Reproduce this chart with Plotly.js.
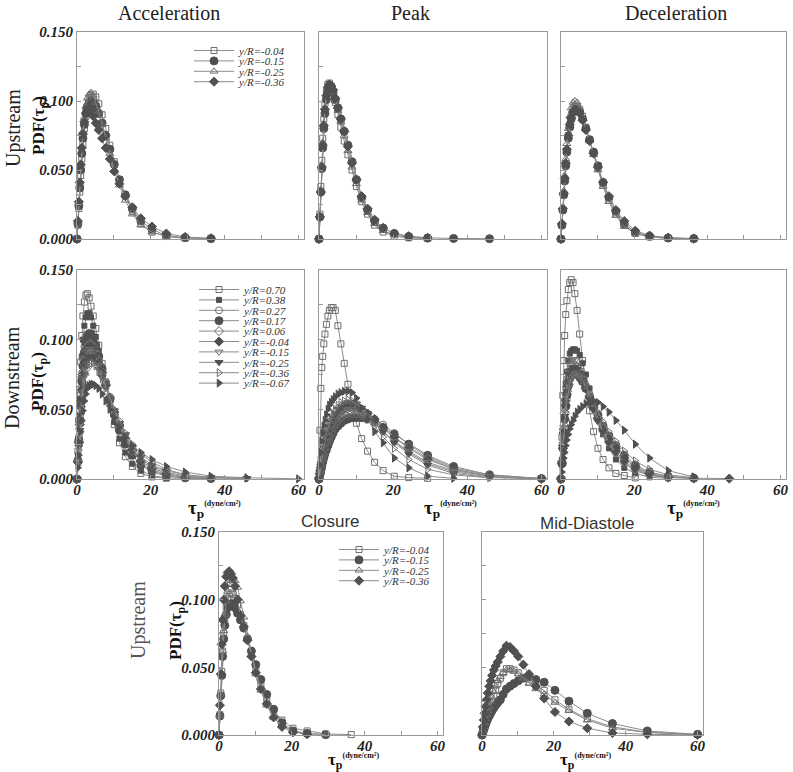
<!DOCTYPE html>
<html><head><meta charset="utf-8">
<script src="https://cdn.plot.ly/plotly-3.0.1.min.js"></script>
<style>html,body{margin:0;padding:0;background:#fff}#plot{width:793px;height:772px}</style>
</head><body><div id="plot"></div>
<script>
// ---------------- DATA ----------------
const TAU = [0, 0.25, 0.5, 0.75, 1.0, 1.3, 1.6, 2.0, 2.4, 2.8, 3.3, 3.8, 4.4, 5.1, 5.9, 6.8, 7.8, 8.9, 10.1, 11.5, 13.1, 15.0, 17.3, 20.3, 24.2, 29.3, 36.3, 46.0, 60.0];
const UP_NAMES = ['y/R=-0.04', 'y/R=-0.15', 'y/R=-0.25', 'y/R=-0.36'];
const DOWN_NAMES = ['y/R=0.70', 'y/R=0.38', 'y/R=0.27', 'y/R=0.17', 'y/R=0.06', 'y/R=-0.04', 'y/R=-0.15', 'y/R=-0.25', 'y/R=-0.36', 'y/R=-0.67'];
const X_TICKS = [0, 10, 20, 30, 40, 50, 60];
const X_TICK_LABELS = ['0', '', '20', '', '40', '', '60'];
const Y_TICKS = [0, 0.025, 0.05, 0.075, 0.1, 0.125, 0.15];
const Y_TICK_LABELS = ['0.000', '', '0.050', '', '0.100', '', '0.150'];

// Upstream - Acceleration
const ACC_UP_M004 = [0, 0.010, 0.022, 0.034, 0.046, 0.058, 0.069, 0.080, 0.089, 0.096, 0.101, 0.104, 0.105, 0.103, 0.098, 0.090, 0.080, 0.068, 0.056, 0.043, 0.031, 0.020, 0.011, 0.005, 0.002, 0.0006, 0.0002];
const ACC_UP_M015 = [0, 0.011, 0.024, 0.037, 0.050, 0.062, 0.073, 0.083, 0.091, 0.096, 0.099, 0.100, 0.099, 0.096, 0.091, 0.084, 0.075, 0.065, 0.054, 0.043, 0.032, 0.022, 0.013, 0.007, 0.0025, 0.001, 0.0003];
const ACC_UP_M025 = [0, 0.012, 0.026, 0.040, 0.054, 0.067, 0.078, 0.088, 0.096, 0.102, 0.105, 0.106, 0.104, 0.099, 0.092, 0.083, 0.073, 0.062, 0.050, 0.039, 0.028, 0.018, 0.010, 0.005, 0.0018, 0.0005];
const ACC_UP_M036 = [0, 0.013, 0.027, 0.041, 0.054, 0.066, 0.076, 0.085, 0.091, 0.094, 0.095, 0.093, 0.089, 0.084, 0.079, 0.073, 0.066, 0.058, 0.049, 0.040, 0.031, 0.023, 0.015, 0.009, 0.004, 0.0015, 0.0005];
// Upstream - Peak
const PEAK_UP_M004 = [0, 0.018, 0.038, 0.057, 0.073, 0.087, 0.098, 0.107, 0.112, 0.113, 0.111, 0.106, 0.099, 0.090, 0.081, 0.071, 0.061, 0.050, 0.038, 0.027, 0.018, 0.010, 0.005, 0.002, 0.0008, 0.0003];
const PEAK_UP_M015 = [0, 0.016, 0.034, 0.051, 0.066, 0.080, 0.091, 0.101, 0.107, 0.110, 0.110, 0.106, 0.101, 0.095, 0.087, 0.078, 0.068, 0.056, 0.043, 0.030, 0.021, 0.013, 0.008, 0.004, 0.0018, 0.0008, 0.0004, 0.0002];
const PEAK_UP_M025 = [0, 0.017, 0.036, 0.054, 0.070, 0.084, 0.095, 0.104, 0.109, 0.111, 0.110, 0.106, 0.100, 0.093, 0.085, 0.075, 0.064, 0.052, 0.040, 0.028, 0.019, 0.011, 0.006, 0.003, 0.001, 0.0004];
const PEAK_UP_M036 = [0, 0.016, 0.034, 0.052, 0.068, 0.082, 0.094, 0.104, 0.110, 0.112, 0.111, 0.108, 0.102, 0.095, 0.087, 0.078, 0.067, 0.055, 0.043, 0.031, 0.022, 0.014, 0.008, 0.004, 0.002, 0.0008];
// Upstream - Deceleration
const DEC_UP_M004 = [0, 0.010, 0.021, 0.032, 0.043, 0.054, 0.064, 0.075, 0.083, 0.089, 0.094, 0.096, 0.096, 0.094, 0.089, 0.081, 0.072, 0.062, 0.051, 0.039, 0.028, 0.018, 0.010, 0.004, 0.0015, 0.0005, 0.0002];
const DEC_UP_M015 = [0, 0.010, 0.021, 0.032, 0.042, 0.053, 0.063, 0.073, 0.081, 0.087, 0.092, 0.094, 0.094, 0.092, 0.087, 0.080, 0.072, 0.063, 0.053, 0.041, 0.030, 0.020, 0.011, 0.005, 0.002, 0.0008, 0.0003];
const DEC_UP_M025 = [0, 0.011, 0.023, 0.035, 0.046, 0.058, 0.069, 0.080, 0.089, 0.095, 0.099, 0.100, 0.099, 0.095, 0.088, 0.080, 0.071, 0.061, 0.050, 0.038, 0.027, 0.017, 0.009, 0.004, 0.0015, 0.0005];
const DEC_UP_M036 = [0, 0.011, 0.022, 0.033, 0.044, 0.055, 0.065, 0.075, 0.083, 0.088, 0.092, 0.093, 0.093, 0.091, 0.086, 0.079, 0.071, 0.062, 0.052, 0.041, 0.031, 0.021, 0.013, 0.006, 0.0025, 0.001, 0.0003];

// Downstream - Acceleration
const ACC_DN_P070 = [0, 0.020, 0.042, 0.064, 0.084, 0.103, 0.117, 0.127, 0.132, 0.133, 0.130, 0.124, 0.117, 0.108, 0.096, 0.083, 0.069, 0.054, 0.039, 0.026, 0.016, 0.009, 0.004, 0.0015, 0.0005];
const ACC_DN_P038 = [0, 0.017, 0.036, 0.055, 0.072, 0.088, 0.100, 0.110, 0.116, 0.119, 0.119, 0.116, 0.110, 0.102, 0.092, 0.080, 0.067, 0.054, 0.041, 0.029, 0.019, 0.011, 0.006, 0.0025, 0.0008, 0.0003];
const ACC_DN_P027 = [0, 0.014, 0.030, 0.046, 0.061, 0.075, 0.086, 0.095, 0.101, 0.104, 0.105, 0.104, 0.101, 0.096, 0.089, 0.080, 0.070, 0.059, 0.048, 0.037, 0.026, 0.017, 0.010, 0.005, 0.002, 0.0006, 0.0002];
const ACC_DN_P017 = [0, 0.013, 0.028, 0.043, 0.057, 0.070, 0.081, 0.091, 0.098, 0.102, 0.104, 0.104, 0.101, 0.096, 0.088, 0.079, 0.068, 0.057, 0.046, 0.035, 0.025, 0.017, 0.010, 0.006, 0.0025, 0.0009, 0.0003];
const ACC_DN_P006 = [0, 0.013, 0.027, 0.041, 0.054, 0.066, 0.077, 0.086, 0.092, 0.095, 0.097, 0.097, 0.095, 0.091, 0.085, 0.077, 0.068, 0.058, 0.048, 0.038, 0.029, 0.020, 0.012, 0.007, 0.003, 0.001, 0.0004];
const ACC_DN_M004 = [0, 0.012, 0.026, 0.039, 0.052, 0.064, 0.075, 0.084, 0.090, 0.094, 0.095, 0.095, 0.093, 0.089, 0.083, 0.076, 0.067, 0.058, 0.048, 0.039, 0.029, 0.021, 0.013, 0.008, 0.004, 0.0015, 0.0005];
const ACC_DN_M015 = [0, 0.012, 0.025, 0.038, 0.050, 0.062, 0.072, 0.081, 0.087, 0.091, 0.093, 0.093, 0.091, 0.087, 0.082, 0.075, 0.067, 0.058, 0.049, 0.040, 0.031, 0.022, 0.015, 0.009, 0.005, 0.002, 0.0008, 0.0003];
const ACC_DN_M025 = [0, 0.011, 0.023, 0.035, 0.046, 0.057, 0.067, 0.075, 0.081, 0.085, 0.087, 0.088, 0.087, 0.084, 0.079, 0.073, 0.066, 0.058, 0.049, 0.040, 0.032, 0.023, 0.016, 0.010, 0.006, 0.003, 0.001, 0.0004];
const ACC_DN_M036 = [0, 0.010, 0.021, 0.032, 0.042, 0.052, 0.061, 0.069, 0.075, 0.079, 0.082, 0.083, 0.083, 0.081, 0.077, 0.072, 0.065, 0.058, 0.050, 0.042, 0.033, 0.025, 0.018, 0.012, 0.007, 0.003, 0.0012, 0.0005];
const ACC_DN_M067 = [0, 0.008, 0.017, 0.026, 0.034, 0.042, 0.049, 0.056, 0.061, 0.065, 0.067, 0.068, 0.068, 0.067, 0.065, 0.061, 0.056, 0.050, 0.044, 0.037, 0.030, 0.024, 0.019, 0.014, 0.009, 0.005, 0.002, 0.0009, 0.0001];
// Downstream - Peak
const PEAK_DN_P070 = [0, 0.035, 0.065, 0.080, 0.088, 0.097, 0.104, 0.111, 0.117, 0.121, 0.123, 0.123, 0.121, 0.110, 0.097, 0.083, 0.068, 0.054, 0.040, 0.029, 0.020, 0.012, 0.006, 0.002, 0.001, 0.0005];
const PEAK_DN_P038 = [0, 0.004, 0.008, 0.012, 0.016, 0.020, 0.024, 0.028, 0.032, 0.035, 0.038, 0.041, 0.044, 0.046, 0.048, 0.050, 0.051, 0.051, 0.050, 0.048, 0.045, 0.040, 0.034, 0.027, 0.019, 0.011, 0.005, 0.0015, 0.0002];
const PEAK_DN_P027 = [0, 0.003, 0.006, 0.009, 0.012, 0.015, 0.018, 0.022, 0.025, 0.028, 0.031, 0.034, 0.037, 0.039, 0.041, 0.043, 0.044, 0.045, 0.046, 0.046, 0.045, 0.043, 0.039, 0.033, 0.025, 0.016, 0.008, 0.003, 0.0003];
const PEAK_DN_P017 = [0, 0.003, 0.006, 0.009, 0.012, 0.015, 0.018, 0.021, 0.024, 0.027, 0.030, 0.033, 0.036, 0.038, 0.040, 0.042, 0.043, 0.044, 0.044, 0.044, 0.043, 0.041, 0.037, 0.032, 0.025, 0.017, 0.009, 0.003, 0.0003];
const PEAK_DN_P006 = [0, 0.004, 0.007, 0.011, 0.014, 0.018, 0.021, 0.025, 0.028, 0.031, 0.034, 0.037, 0.040, 0.042, 0.044, 0.046, 0.047, 0.047, 0.047, 0.046, 0.044, 0.041, 0.036, 0.030, 0.023, 0.015, 0.007, 0.0025, 0.0002];
const PEAK_DN_M004 = [0, 0.004, 0.008, 0.012, 0.016, 0.020, 0.024, 0.028, 0.032, 0.035, 0.038, 0.041, 0.044, 0.047, 0.049, 0.051, 0.052, 0.053, 0.052, 0.050, 0.047, 0.043, 0.037, 0.030, 0.022, 0.014, 0.007, 0.002, 0.0002];
const PEAK_DN_M015 = [0, 0.004, 0.008, 0.012, 0.016, 0.020, 0.023, 0.027, 0.031, 0.034, 0.037, 0.040, 0.043, 0.045, 0.047, 0.049, 0.050, 0.050, 0.049, 0.047, 0.044, 0.040, 0.034, 0.027, 0.020, 0.012, 0.006, 0.002, 0.0002];
const PEAK_DN_M025 = [0, 0.005, 0.009, 0.014, 0.018, 0.022, 0.026, 0.030, 0.034, 0.038, 0.041, 0.044, 0.047, 0.050, 0.052, 0.054, 0.055, 0.055, 0.054, 0.051, 0.047, 0.041, 0.034, 0.026, 0.018, 0.010, 0.004, 0.001, 0.0001];
const PEAK_DN_M036 = [0, 0.005, 0.010, 0.015, 0.019, 0.024, 0.028, 0.033, 0.037, 0.041, 0.044, 0.047, 0.050, 0.053, 0.055, 0.056, 0.057, 0.056, 0.054, 0.050, 0.045, 0.038, 0.030, 0.022, 0.014, 0.007, 0.003, 0.0008];
const PEAK_DN_M067 = [0, 0.010, 0.019, 0.027, 0.033, 0.038, 0.042, 0.046, 0.050, 0.053, 0.055, 0.057, 0.059, 0.061, 0.062, 0.063, 0.063, 0.062, 0.058, 0.051, 0.043, 0.034, 0.026, 0.015, 0.008, 0.002, 0.0005];
// Downstream - Deceleration
const DEC_DN_P070 = [0, 0.030, 0.060, 0.085, 0.103, 0.118, 0.128, 0.136, 0.141, 0.143, 0.141, 0.133, 0.121, 0.104, 0.085, 0.066, 0.049, 0.034, 0.022, 0.014, 0.008, 0.004, 0.0025, 0.0008];
const DEC_DN_P038 = [0, 0.014, 0.029, 0.043, 0.056, 0.068, 0.077, 0.085, 0.090, 0.092, 0.093, 0.093, 0.092, 0.089, 0.083, 0.075, 0.065, 0.054, 0.043, 0.032, 0.022, 0.014, 0.008, 0.004, 0.0012, 0.0004];
const DEC_DN_P027 = [0, 0.011, 0.023, 0.034, 0.044, 0.054, 0.062, 0.069, 0.074, 0.077, 0.079, 0.079, 0.078, 0.076, 0.072, 0.067, 0.061, 0.054, 0.046, 0.038, 0.030, 0.022, 0.015, 0.008, 0.004, 0.0015, 0.0005];
const DEC_DN_P017 = [0, 0.011, 0.022, 0.033, 0.043, 0.052, 0.060, 0.067, 0.072, 0.075, 0.076, 0.076, 0.075, 0.073, 0.070, 0.065, 0.059, 0.053, 0.046, 0.038, 0.031, 0.024, 0.017, 0.010, 0.005, 0.002, 0.0006];
const DEC_DN_P006 = [0, 0.012, 0.024, 0.036, 0.047, 0.057, 0.066, 0.073, 0.078, 0.081, 0.082, 0.082, 0.080, 0.077, 0.072, 0.066, 0.059, 0.051, 0.043, 0.035, 0.027, 0.020, 0.013, 0.007, 0.003, 0.001, 0.0004];
const DEC_DN_M004 = [0, 0.011, 0.022, 0.033, 0.043, 0.053, 0.061, 0.068, 0.073, 0.076, 0.078, 0.078, 0.077, 0.074, 0.070, 0.065, 0.058, 0.051, 0.044, 0.036, 0.029, 0.022, 0.015, 0.009, 0.004, 0.0015, 0.0006, 0.0003];
const DEC_DN_M015 = [0, 0.012, 0.025, 0.037, 0.049, 0.060, 0.069, 0.077, 0.082, 0.085, 0.086, 0.085, 0.082, 0.078, 0.072, 0.065, 0.057, 0.049, 0.041, 0.033, 0.025, 0.018, 0.011, 0.006, 0.0025, 0.0008];
const DEC_DN_M025 = [0, 0.011, 0.023, 0.034, 0.045, 0.055, 0.063, 0.070, 0.075, 0.078, 0.080, 0.080, 0.079, 0.076, 0.071, 0.065, 0.058, 0.050, 0.042, 0.034, 0.026, 0.019, 0.012, 0.007, 0.003, 0.001];
const DEC_DN_M036 = [0, 0.010, 0.020, 0.030, 0.039, 0.048, 0.056, 0.063, 0.068, 0.072, 0.074, 0.075, 0.075, 0.074, 0.071, 0.067, 0.061, 0.055, 0.048, 0.041, 0.034, 0.027, 0.020, 0.013, 0.007, 0.003, 0.001];
const DEC_DN_M067 = [0, 0.005, 0.010, 0.015, 0.019, 0.024, 0.028, 0.032, 0.036, 0.039, 0.042, 0.045, 0.048, 0.050, 0.052, 0.054, 0.055, 0.056, 0.055, 0.052, 0.048, 0.042, 0.035, 0.025, 0.015, 0.006, 0.0015];

// Upstream - Closure
const CLO_UP_M004 = [0, 0.015, 0.031, 0.047, 0.062, 0.075, 0.086, 0.095, 0.101, 0.104, 0.105, 0.104, 0.101, 0.096, 0.089, 0.081, 0.071, 0.060, 0.048, 0.037, 0.027, 0.018, 0.011, 0.005, 0.003, 0.0008, 0.0003];
const CLO_UP_M015 = [0, 0.014, 0.029, 0.044, 0.058, 0.071, 0.081, 0.089, 0.094, 0.096, 0.097, 0.096, 0.094, 0.090, 0.085, 0.079, 0.071, 0.062, 0.052, 0.041, 0.030, 0.019, 0.009, 0.003, 0.0012, 0.0002];
const CLO_UP_M025 = [0, 0.014, 0.030, 0.046, 0.062, 0.077, 0.089, 0.099, 0.106, 0.111, 0.114, 0.115, 0.114, 0.109, 0.099, 0.087, 0.073, 0.059, 0.045, 0.033, 0.022, 0.013, 0.007, 0.003, 0.001, 0.0003];
const CLO_UP_M036 = [0, 0.022, 0.045, 0.067, 0.085, 0.100, 0.110, 0.117, 0.120, 0.121, 0.119, 0.116, 0.110, 0.100, 0.088, 0.080, 0.070, 0.058, 0.046, 0.034, 0.023, 0.013, 0.006, 0.002, 0.0006];
// Upstream - Mid-Diastole
const MID_UP_M004 = [0, 0.003, 0.005, 0.008, 0.010, 0.013, 0.016, 0.019, 0.022, 0.025, 0.029, 0.033, 0.038, 0.042, 0.046, 0.049, 0.049, 0.048, 0.046, 0.042, 0.039, 0.036, 0.033, 0.026, 0.019, 0.012, 0.006, 0.002, 0.0003];
const MID_UP_M015 = [0, 0.002, 0.004, 0.006, 0.008, 0.010, 0.012, 0.014, 0.016, 0.018, 0.020, 0.022, 0.024, 0.026, 0.030, 0.034, 0.036, 0.038, 0.040, 0.042, 0.043, 0.041, 0.039, 0.033, 0.025, 0.016, 0.0085, 0.003, 0.0005];
const MID_UP_M025 = [0, 0.003, 0.006, 0.009, 0.012, 0.015, 0.018, 0.021, 0.025, 0.028, 0.032, 0.036, 0.040, 0.043, 0.046, 0.048, 0.048, 0.047, 0.045, 0.042, 0.038, 0.034, 0.030, 0.024, 0.018, 0.011, 0.005, 0.0018, 0.0003];
const MID_UP_M036 = [0, 0.006, 0.011, 0.016, 0.021, 0.026, 0.031, 0.036, 0.040, 0.044, 0.048, 0.051, 0.054, 0.058, 0.062, 0.066, 0.065, 0.062, 0.058, 0.052, 0.045, 0.036, 0.027, 0.017, 0.010, 0.005, 0.0015, 0.0005, 0.0001];

const ACC_UP = [ACC_UP_M004, ACC_UP_M015, ACC_UP_M025, ACC_UP_M036];
const PEAK_UP = [PEAK_UP_M004, PEAK_UP_M015, PEAK_UP_M025, PEAK_UP_M036];
const DEC_UP = [DEC_UP_M004, DEC_UP_M015, DEC_UP_M025, DEC_UP_M036];
const ACC_DN = [ACC_DN_P070, ACC_DN_P038, ACC_DN_P027, ACC_DN_P017, ACC_DN_P006, ACC_DN_M004, ACC_DN_M015, ACC_DN_M025, ACC_DN_M036, ACC_DN_M067];
const PEAK_DN = [PEAK_DN_P070, PEAK_DN_P038, PEAK_DN_P027, PEAK_DN_P017, PEAK_DN_P006, PEAK_DN_M004, PEAK_DN_M015, PEAK_DN_M025, PEAK_DN_M036, PEAK_DN_M067];
const DEC_DN = [DEC_DN_P070, DEC_DN_P038, DEC_DN_P027, DEC_DN_P017, DEC_DN_P006, DEC_DN_M004, DEC_DN_M015, DEC_DN_M025, DEC_DN_M036, DEC_DN_M067];
const CLO_UP = [CLO_UP_M004, CLO_UP_M015, CLO_UP_M025, CLO_UP_M036];
const MID_UP = [MID_UP_M004, MID_UP_M015, MID_UP_M025, MID_UP_M036];

// ---------------- STYLE / LAYOUT ----------------
const W = 793, H = 772;
const px = v => v / W, py = v => 1 - v / H;
const STY_UP = [
  {symbol: 'square-open', size: 6}, {symbol: 'circle', size: 8},
  {symbol: 'triangle-up-open', size: 7}, {symbol: 'diamond', size: 7}
];
const STY_DN = [
  {symbol: 'square-open', size: 6}, {symbol: 'square', size: 5}, {symbol: 'circle-open', size: 7},
  {symbol: 'circle', size: 8}, {symbol: 'diamond-open', size: 7}, {symbol: 'diamond', size: 7},
  {symbol: 'triangle-down-open', size: 7}, {symbol: 'triangle-down', size: 7},
  {symbol: 'triangle-right-open', size: 7}, {symbol: 'triangle-right', size: 7}
];
const PANELS = [
  {box: [77, 304, 32, 239], d: ACC_UP, names: UP_NAMES, sty: STY_UP, leg: 'legend', xl: false, yl: true},
  {box: [319, 547, 32, 239], d: PEAK_UP, names: UP_NAMES, sty: STY_UP, leg: null, xl: false, yl: false},
  {box: [561, 786, 32, 239], d: DEC_UP, names: UP_NAMES, sty: STY_UP, leg: null, xl: false, yl: false},
  {box: [77, 304, 270, 479], d: ACC_DN, names: DOWN_NAMES, sty: STY_DN, leg: 'legend2', xl: true, yl: true},
  {box: [319, 547, 270, 479], d: PEAK_DN, names: DOWN_NAMES, sty: STY_DN, leg: null, xl: true, yl: false},
  {box: [561, 786, 270, 479], d: DEC_DN, names: DOWN_NAMES, sty: STY_DN, leg: null, xl: true, yl: false},
  {box: [219, 443, 532, 735], d: CLO_UP, names: UP_NAMES, sty: STY_UP, leg: 'legend3', xl: true, yl: true},
  {box: [482, 703, 532, 735], d: MID_UP, names: UP_NAMES, sty: STY_UP, leg: null, xl: true, yl: false}
];

const tickFont = {family: 'Liberation Serif', size: 15, color: '#222', weight: 'bold', style: 'italic'};
const data = [];
const layout = {
  width: W, height: H, margin: {l: 0, r: 0, t: 0, b: 0},
  paper_bgcolor: '#fff', plot_bgcolor: '#fff', showlegend: true, annotations: []
};

PANELS.forEach((p, i) => {
  const n = i + 1, sfx = n > 1 ? n : '';
  const b = p.box;
  layout['xaxis' + sfx] = {
    domain: [px(b[0]), px(b[1])], anchor: 'y' + sfx, range: [0, 61.5],
    tickmode: 'array', tickvals: X_TICKS, ticktext: p.xl ? X_TICK_LABELS : X_TICKS.map(() => ''),
    ticks: 'inside', ticklen: 4, tickcolor: '#999', showline: true, linecolor: '#999', linewidth: 1,
    mirror: true, showgrid: false, zeroline: false, tickfont: tickFont, fixedrange: true,
    ticklabelstandoff: -3
  };
  layout['yaxis' + sfx] = {
    domain: [py(b[3]), py(b[2])], anchor: 'x' + sfx, range: [0, 0.15],
    tickmode: 'array', tickvals: Y_TICKS, ticktext: p.yl ? Y_TICK_LABELS : Y_TICKS.map(() => ''),
    ticks: 'inside', ticklen: 4, tickcolor: '#999', showline: true, linecolor: '#999', linewidth: 1,
    mirror: true, showgrid: false, zeroline: false, tickfont: tickFont, fixedrange: true
  };
  p.d.forEach((y, k) => {
    const s = p.sty[k], open = s.symbol.endsWith('-open');
    const col = open ? '#6e6e6e' : '#505050';
    data.push({
      type: 'scatter', mode: 'lines+markers', x: TAU, y: y, name: p.names[k],
      xaxis: 'x' + sfx, yaxis: 'y' + sfx, legend: p.leg || 'legend', showlegend: !!p.leg,
      cliponaxis: false, hoverinfo: 'skip',
      line: {color: '#8c8c8c', width: 1},
      marker: {symbol: s.symbol, size: s.size, color: col, line: {width: 1, color: col}}
    });
  });
});

const legFont = {family: 'Liberation Serif', size: 11, style: 'italic', color: '#333'};
const legBase = {xanchor: 'left', yanchor: 'top', bgcolor: 'rgba(0,0,0,0)', borderwidth: 0,
  font: legFont, itemwidth: 40, tracegroupgap: 0, traceorder: 'normal', itemclick: false, itemdoubleclick: false};
layout.legend = Object.assign({}, legBase, {x: px(189), y: py(36)});
layout.legend2 = Object.assign({}, legBase, {x: px(194), y: py(275)});
layout.legend3 = Object.assign({}, legBase, {x: px(334), y: py(535)});

function ann(text, x, y, font, extra) {
  layout.annotations.push(Object.assign({
    text: text, x: px(x), y: py(y), xref: 'paper', yref: 'paper', showarrow: false,
    xanchor: 'center', yanchor: 'middle', font: font
  }, extra || {}));
}
const titleFont = {family: 'Liberation Serif', size: 20, color: '#222'};
ann('Acceleration', 169, 13, titleFont);
ann('Peak', 411, 13, titleFont);
ann('Deceleration', 676, 13, titleFont);
const sansTitle = {family: 'Liberation Sans', size: 17, color: '#333'};
ann('Closure', 330, 521, sansTitle);
ann('Mid-Diastole', 587, 523, sansTitle);
const rowFont = {family: 'Liberation Serif', size: 20, color: '#222'};
ann('Upstream', 13, 128, rowFont, {textangle: -90});
ann('Downstream', 12, 378, rowFont, {textangle: -90});
ann('Upstream', 138, 620, {family: 'Liberation Serif', size: 20, color: '#555'}, {textangle: -90});
const pdfFont = {family: 'Liberation Serif', size: 17, color: '#111'};
const pdfText = '<b>PDF(τ<sub>p</sub>)</b>';
ann(pdfText, 40, 126, pdfFont, {textangle: -90});
ann(pdfText, 39, 382, pdfFont, {textangle: -90});
ann(pdfText, 177, 631, pdfFont, {textangle: -90});
const xtFont = {family: 'Liberation Serif', size: 19, color: '#111'};
const xtFontSm = {family: 'Liberation Serif', size: 17, color: '#111'};
const xtText = "<b>τ<sub>p</sub><sup><span style='font-size:8px'>(dyne/cm²)</span></sup></b>";
ann(xtText, 186, 509, xtFont, {xanchor: 'left'});
ann(xtText, 422, 509, xtFont, {xanchor: 'left'});
ann(xtText, 665, 509, xtFont, {xanchor: 'left'});
ann(xtText, 326, 761, xtFontSm, {xanchor: 'left'});
ann(xtText, 558, 761, xtFontSm, {xanchor: 'left'});

const ROW_GAP = 10.4;
function tightenLegends(gd) {
  gd.querySelectorAll('g.infolayer > g').forEach(g => {
    const cls = g.getAttribute('class') || '';
    if (!/^legend\d*$/.test(cls)) return;
    const items = g.querySelectorAll('g.traces');
    if (!items.length) return;
    const m = /translate\(\s*([-\d.e]+)[ ,]+([-\d.e]+)\s*\)/.exec(items[0].getAttribute('transform') || '');
    const x0 = m ? +m[1] : 0, y0 = m ? +m[2] : 0;
    items.forEach((it, i) => it.setAttribute('transform', 'translate(' + x0 + ',' + (y0 + i * ROW_GAP) + ')'));
  });
}

Plotly.newPlot('plot', data, layout, {staticPlot: true, displayModeBar: false}).then(gd => {
  tightenLegends(gd);
});
</script>
</body></html>
